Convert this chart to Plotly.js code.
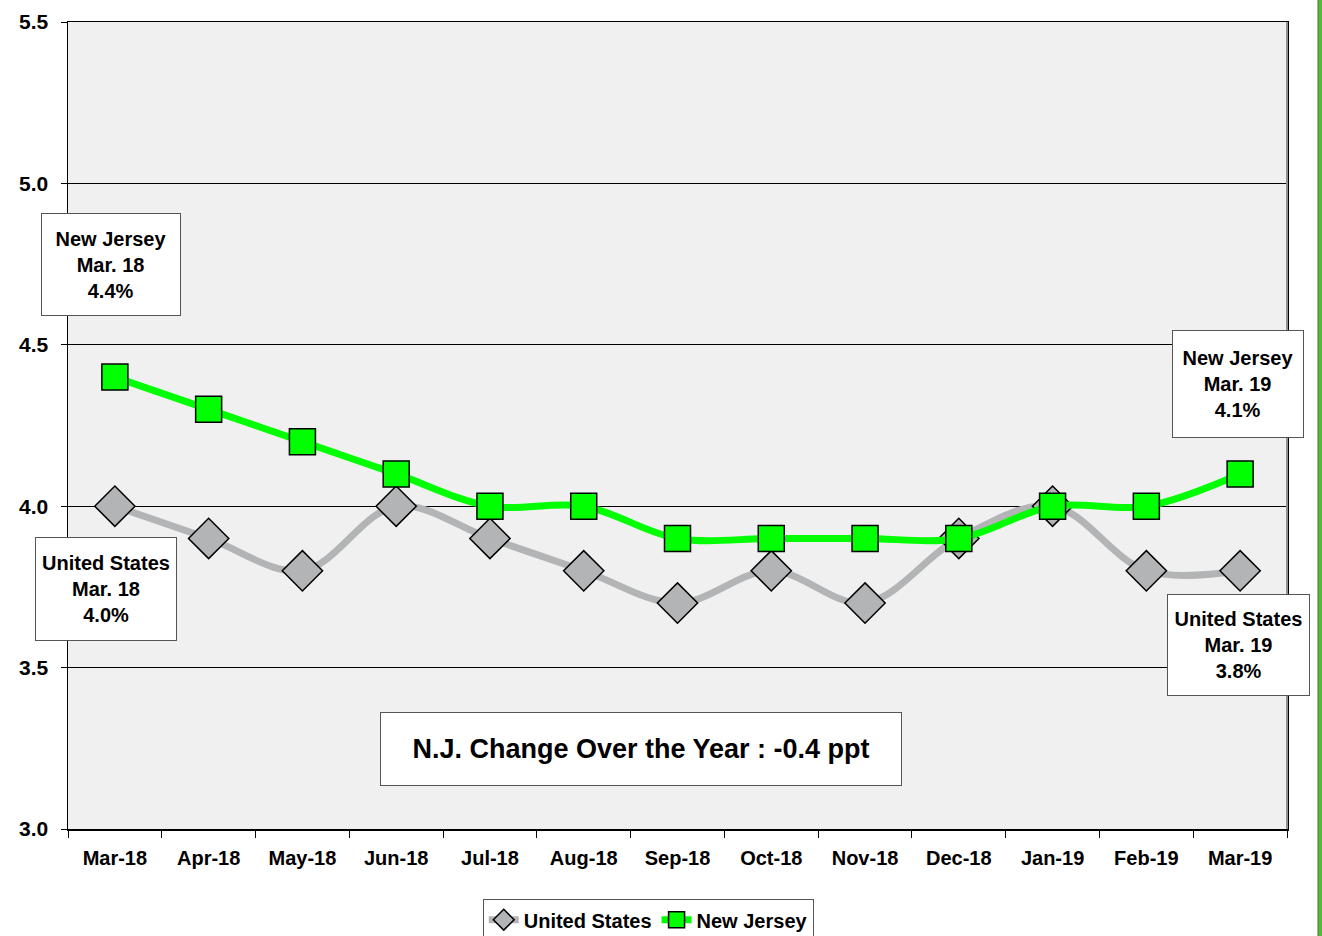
<!DOCTYPE html>
<html>
<head>
<meta charset="utf-8">
<script src="https://cdn.plot.ly/plotly-3.0.1.min.js"></script>
<style>
html,body{margin:0;padding:0;background:#fff;}
#chart{width:1322px;height:936px;}
</style>
</head>
<body>
<div id="chart"></div>
<script>
var months = ["Mar-18","Apr-18","May-18","Jun-18","Jul-18","Aug-18","Sep-18","Oct-18","Nov-18","Dec-18","Jan-19","Feb-19","Mar-19"];
var usRate = [4.0,3.9,3.8,4.0,3.9,3.8,3.7,3.8,3.7,3.9,4.0,3.8,3.8];
var njRate = [4.4,4.3,4.2,4.1,4.0,4.0,3.9,3.9,3.9,3.9,4.0,4.0,4.1];
var yTicks = [3.0,3.5,4.0,4.5,5.0,5.5];

var FONT = "'Liberation Sans Narrow','Arial Narrow','Liberation Sans',Arial,sans-serif";

var traces = [
  {
    x: months, y: usRate, name: "United States", type: "scatter", mode: "lines+markers",
    line: {color: "#b2b4b6", width: 7, shape: "spline", smoothing: 1},
    marker: {symbol: "diamond", size: 31, color: "#b2b4b6", line: {color: "#000", width: 1.5}}
  },
  {
    x: months, y: njRate, name: "New Jersey", type: "scatter", mode: "lines+markers",
    line: {color: "#00ff00", width: 7, shape: "spline", smoothing: 1},
    marker: {symbol: "square", size: 26, color: "#00ff00", line: {color: "#000", width: 1.5}}
  }
];

function box(text, cx, cy, w, h, size) {
  return {
    xref: "paper", yref: "paper",
    x: (cx - 68) / 1219, y: (829 - cy) / 807,
    xanchor: "center", yanchor: "middle",
    text: text, showarrow: false,
    width: w, height: h, align: "center", valign: "middle",
    bgcolor: "#ffffff", bordercolor: "#555555", borderwidth: 1, borderpad: 3,
    font: {family: FONT, size: size, color: "#000", weight: "bold"}
  };
}

var layout = {
  width: 1322, height: 936,
  margin: {l: 68, r: 35, t: 22, b: 107, autoexpand: false},
  paper_bgcolor: "#ffffff",
  plot_bgcolor: "#f0f0f0",
  font: {family: FONT, color: "#000", weight: "bold"},
  showlegend: true,
  legend: {
    orientation: "h", xref: "paper", yref: "paper",
    x: 0.476, xanchor: "center", y: -0.087, yanchor: "top",
    bgcolor: "#ffffff", bordercolor: "#555", borderwidth: 1,
    font: {family: FONT, size: 20, color: "#000", weight: "bold"},
    tracegroupgap: 0
  },
  xaxis: {
    type: "category", range: [-0.5, 12.5],
    showgrid: false, zeroline: false,
    showline: true, linecolor: "#000", linewidth: 1.5, mirror: true,
    ticks: "outside", tickson: "boundaries", ticklen: 7, tickcolor: "#000",
    ticklabelstandoff: 10,
    tickfont: {family: FONT, size: 20, color: "#000", weight: "bold"},
    fixedrange: true
  },
  yaxis: {
    range: [3.0, 5.5], tickvals: yTicks, tickformat: ".1f",
    showgrid: true, gridcolor: "#000", gridwidth: 1,
    zeroline: false,
    showline: true, linecolor: "#000", linewidth: 1.5, mirror: true,
    ticks: "outside", ticklen: 6, tickcolor: "#000",
    ticklabelstandoff: 8,
    tickfont: {family: FONT, size: 21, color: "#000", weight: "bold"},
    fixedrange: true
  },
  shapes: [
    {type: "line", xref: "paper", yref: "paper", x0: 1, x1: 1, y0: 0, y1: 1, line: {color: "#909090", width: 2}},
    {type: "rect", xref: "paper", yref: "paper", x0: (1318 - 68) / 1219, x1: (1323 - 68) / 1219, y0: -0.2, y1: 1.1, fillcolor: "#5cb542", line: {color: "#3a7a2a", width: 1}}
  ],
  annotations: [
    box("New Jersey<br>Mar. 18<br>4.4%", 111, 264.5, 132, 95, 20),
    box("United States<br>Mar. 18<br>4.0%", 106, 589, 134, 96, 20),
    box("New Jersey<br>Mar. 19<br>4.1%", 1238, 384, 124, 100, 20),
    box("United States<br>Mar. 19<br>3.8%", 1238.5, 645, 135, 94, 20),
    box("N.J. Change Over the Year : -0.4 ppt", 641, 749, 514, 66, 27)
  ]
};

Plotly.newPlot("chart", traces, layout, {displayModeBar: false, staticPlot: true});
</script>
</body>
</html>
